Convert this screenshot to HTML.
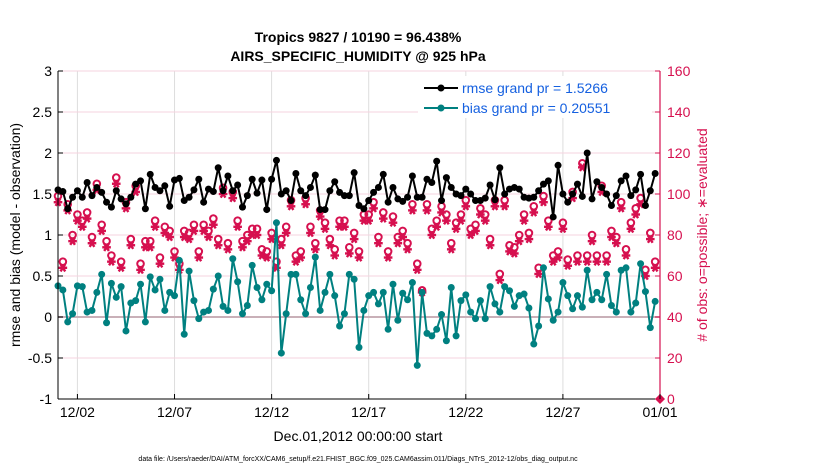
<!DOCTYPE html>
<html><head><meta charset="utf-8"><style>
body{margin:0;background:#fff;}
svg text{font-family:"Liberation Sans",sans-serif;}
</style></head><body>
<svg id="chart" width="830" height="470" viewBox="0 0 830 470" xmlns="http://www.w3.org/2000/svg">
<rect width="830" height="470" fill="#fff"/>
<text x="358" y="42" font-size="14" font-weight="bold" text-anchor="middle">Tropics 9827 / 10190 = 96.438%</text>
<text x="358" y="61" font-size="14" font-weight="bold" text-anchor="middle">AIRS_SPECIFIC_HUMIDITY @ 925 hPa</text>
<g id="grid"></g><g id="marks"></g><g id="axes"></g>
<text transform="translate(20,235) rotate(-90)" font-size="14" text-anchor="middle">rmse and bias (model - observation)</text>
<text transform="translate(707,235) rotate(-90)" font-size="14" text-anchor="middle" fill="#d6104f"># of obs: o=possible; ∗=evaluated</text>
<text x="358" y="441" font-size="14" text-anchor="middle">Dec.01,2012 00:00:00 start</text>
<text x="358" y="461" font-size="7" text-anchor="middle">data file: /Users/raeder/DAI/ATM_forcXX/CAM6_setup/f.e21.FHIST_BGC.f09_025.CAM6assim.011/Diags_NTrS_2012-12/obs_diag_output.nc</text>
<g>
<rect x="418" y="76" width="234" height="42" fill="#fff"/>
<line x1="424" y1="88" x2="458" y2="88" stroke="#000" stroke-width="2"/><circle cx="441" cy="88" r="3.5" fill="#000"/>
<text x="462" y="93" font-size="14" fill="#1560e0">rmse grand pr = 1.5266</text>
<line x1="424" y1="108" x2="458" y2="108" stroke="#008080" stroke-width="2"/><circle cx="441" cy="108" r="3.5" fill="#008080"/>
<text x="462" y="113" font-size="14" fill="#1560e0">bias grand pr = 0.20551</text>
</g>
</svg>
<script>
const rmse=[1.55,1.53,1.32,1.46,1.54,1.46,1.64,1.48,1.58,1.52,1.40,1.34,1.54,1.44,1.38,1.46,1.62,1.66,1.32,1.74,1.58,1.54,1.60,1.35,1.67,1.69,1.42,1.46,1.55,1.68,1.40,1.56,
1.53,1.82,1.54,1.72,1.54,1.61,1.34,1.48,1.68,1.51,1.67,1.31,1.68,1.91,1.50,1.54,1.42,1.75,1.54,1.48,1.58,1.73,1.31,1.31,1.54,1.65,1.52,1.48,1.48,1.76,1.36,
1.32,1.42,1.52,1.58,1.74,1.40,1.58,1.44,1.41,1.46,1.72,1.46,1.46,1.68,1.64,1.90,1.42,1.70,1.58,1.50,1.48,1.56,1.50,1.42,1.42,1.45,1.61,1.43,1.82,1.50,1.56,
1.58,1.56,1.46,1.45,1.46,1.54,1.62,1.66,1.22,1.85,1.50,1.40,1.50,1.62,1.47,2.00,1.44,1.65,1.58,1.50,1.36,1.48,1.66,1.72,1.48,1.55,1.74,1.36,1.54,1.75];
const bias=[0.38,0.33,-0.06,0.04,0.38,0.37,0.06,0.08,0.30,0.52,-0.07,0.41,0.24,0.37,-0.17,0.17,0.20,0.40,-0.06,0.49,0.33,0.46,0.08,0.30,0.26,0.69,-0.21,0.56,0.2,-0.02,0.06,0.08,
0.34,0.50,0.13,0.08,0.71,0.43,0.04,0.14,0.63,0.36,0.21,0.40,0.32,1.15,-0.44,0.04,0.52,0.52,0.21,0.04,0.36,0.73,0.08,0.30,0.52,0.26,-0.11,0.04,0.52,0.46,-0.37,
0.08,0.26,0.30,0.16,0.30,-0.15,0.40,-0.04,0.29,0.21,0.42,-0.59,0.30,-0.20,-0.23,-0.15,0.03,-0.29,0.36,-0.23,0.20,0.27,0.06,-0.02,0.20,-0.02,0.37,0.16,0.06,0.37,0.32,
0.13,0.26,0.28,0.11,-0.33,-0.11,0.60,0.22,-0.04,0.06,0.42,0.26,0.10,0.26,0.12,0.57,0.21,0.30,0.21,0.52,0.14,0.06,0.57,0.60,0.06,0.17,0.65,0.31,-0.13,0.19];
const evaluated=[96,64,92,77,87,84,88,76,102,82,74,67,105,64,93,75,101,63,74,74,84,66,81,79,69,63,79,78,82,69,82,79,
85,75,100,73,98,84,74,77,80,80,70,69,78,64,75,81,94,67,69,95,81,73,89,83,75,70,84,84,71,78,69,
87,87,93,76,88,69,86,76,79,73,92,63,52,92,80,84,91,87,73,83,87,94,80,82,90,87,75,94,58,94,72,
71,77,87,78,91,61,96,84,67,69,83,65,98,67,113,67,77,67,101,67,79,76,93,70,83,90,95,60,78,64];
const possible=[99,67,95,80,90,87,91,79,105,85,77,70,108,67,96,78,104,66,77,77,87,69,84,82,72,66,82,81,85,72,85,82,
88,78,103,76,101,87,77,80,83,83,73,72,81,67,78,84,97,70,72,98,84,76,92,86,78,73,87,87,74,81,72,
90,90,96,79,91,72,89,79,82,76,95,66,53,95,83,87,94,90,76,86,90,97,83,85,93,90,78,97,61,97,75,
74,80,90,81,94,64,99,87,70,72,86,68,101,70,115,70,80,70,104,70,82,79,96,73,86,93,98,63,81,67];
const stepDays=0.25;
const xTickDays=[1,6,11,16,21,26,31];
const xTickLabels=["12/02","12/07","12/12","12/17","12/22","12/27","01/01"];
const yTicks=[-1,-0.5,0,0.5,1,1.5,2,2.5,3];
const yTickLabels=["-1","-0.5","0","0.5","1","1.5","2","2.5","3"];
const y2Ticks=[0,20,40,60,80,100,120,140,160];

const L=58,R=660,T=71,B=399,NS="http://www.w3.org/2000/svg",PINK="#d6104f";
const xs=d=>L+(d)*(R-L)/31;
const ys=v=>B-(v+1)*(B-T)/4;
const y2=v=>B-v*(B-T)/160;
function el(tag,attrs,parent){const e=document.createElementNS(NS,tag);for(const k in attrs)e.setAttribute(k,attrs[k]);parent.appendChild(e);return e;}
const grid=document.getElementById('grid'),marks=document.getElementById('marks'),axes=document.getElementById('axes');
xTickDays.forEach(d=>{const g=el('line',{x1:xs(d),x2:xs(d),y1:T,y2:B,stroke:'#ddd','stroke-width':1},grid);

});
yTicks.forEach(v=>{const g=el('line',{x1:L,x2:R,y1:ys(v),y2:ys(v),stroke:'#f6d3df','stroke-width':1},grid);

});
const z=el('line',{x1:L,x2:R,y1:ys(0),y2:ys(0),stroke:'#c9b0b8','stroke-width':2},grid);


function star(cx,cy,parent){const g=el('g',{stroke:PINK,'stroke-width':2.4},parent);const r=4.3;
el('line',{x1:cx-r,x2:cx+r,y1:cy,y2:cy},g);el('line',{x1:cx-r*0.55,x2:cx+r*0.55,y1:cy-r*0.85,y2:cy+r*0.85},g);el('line',{x1:cx-r*0.55,x2:cx+r*0.55,y1:cy+r*0.85,y2:cy-r*0.85},g);return g;}
possible.forEach((v,i)=>{const c=el('circle',{cx:xs(i*stepDays),cy:y2(v),r:3.3,fill:'none',stroke:PINK,'stroke-width':2},marks);

});
evaluated.forEach((v,i)=>{const s=star(xs(i*stepDays),y2(v),marks);

});
function series(arr,color,name){const pts=arr.map((v,i)=>xs(i*stepDays)+','+ys(v)).join(' ');
const p=el('polyline',{points:pts,fill:'none',stroke:color,'stroke-width':2},marks);


arr.forEach((v,i)=>{const c=el('circle',{cx:xs(i*stepDays),cy:ys(v),r:3.5,fill:color},marks);

});}
series(bias,'#008080','bias');
series(rmse,'#000','rmse');
const end=el('path',{d:`M${R} ${B-5} L${R+5} ${B} L${R} ${B+5} L${R-5} ${B} Z`,fill:PINK},marks);


el('line',{x1:L,x2:L,y1:T,y2:B,stroke:'#000','stroke-width':1},axes);
el('line',{x1:L,x2:R,y1:B,y2:B,stroke:'#000','stroke-width':1},axes);
el('line',{x1:R,x2:R,y1:T,y2:B,stroke:PINK,'stroke-width':1.2},axes);
yTicks.forEach((v,i)=>{el('line',{x1:L,x2:L+5,y1:ys(v),y2:ys(v),stroke:'#000'},axes);
const t=el('text',{x:L-6,y:ys(v)+5,'font-size':14,'text-anchor':'end'},axes);t.textContent=yTickLabels[i];

});
y2Ticks.forEach(v=>{el('line',{x1:R-5,x2:R,y1:y2(v),y2:y2(v),stroke:PINK},axes);
const t=el('text',{x:R+7,y:y2(v)+5,'font-size':14,fill:PINK},axes);t.textContent=v;

});
xTickDays.forEach((d,i)=>{el('line',{x1:xs(d),x2:xs(d),y1:B-5,y2:B,stroke:'#000'},axes);
const t=el('text',{x:xs(d),y:B+18,'font-size':14,'text-anchor':'middle'},axes);t.textContent=xTickLabels[i];

});
</script>
</body></html>
